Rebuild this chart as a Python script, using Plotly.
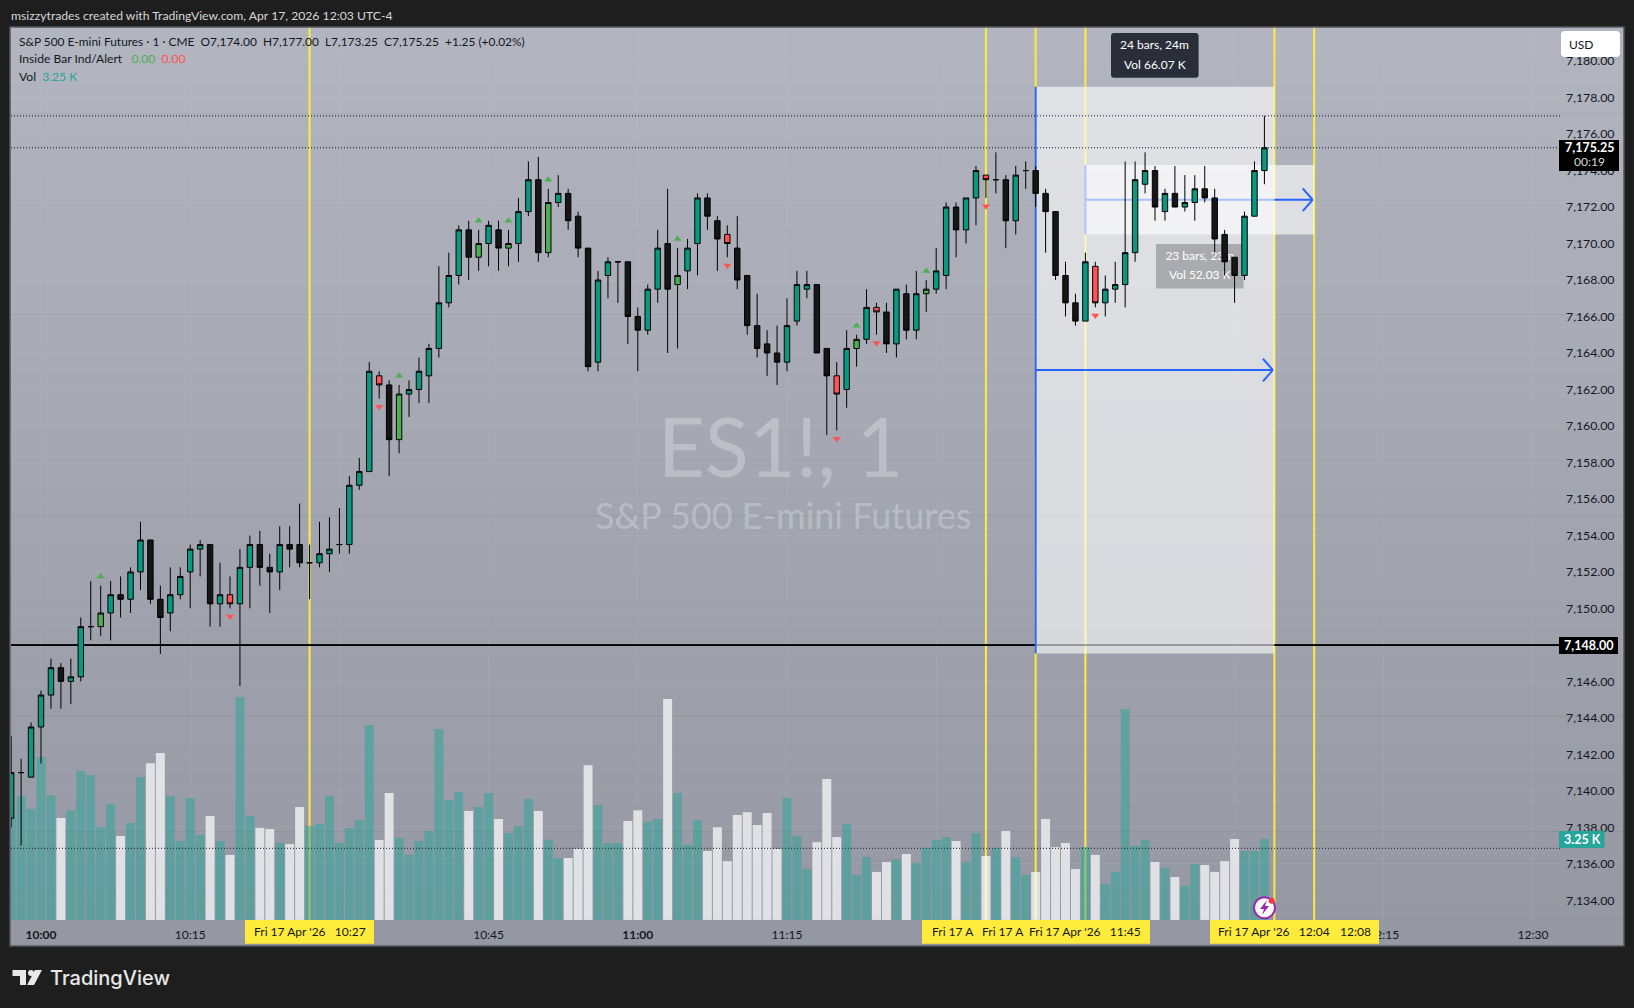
import pandas as pd
import plotly.graph_objects as go

W, H = 1634, 1008
L, R, T, B = 11, 1560, 27, 920
FONT = "Lato"
INK = "#131722"

# ---------- data ----------
start = "2026-04-17 09:57"
opens = [7138.5,7141,7140.75,7143.5,7145.25,7146.75,7146,7146.25,7149,7149,
7149.75,7150.75,7150.5,7152,7153.75,7150.5,7149.75,7150.75,7152,7153.25,
7153.5,7150.25,7150.75,7150.25,7152.25,7153.5,7152.25,7152,7153.5,7153.5,
7152.5,7152.5,7153,7153.5,7153.5,7156.75,7157.5,7162.75,7162.25,7159.25,
7161.75,7162,7162.75,7164.25,7166.75,7168.25,7170.75,7169.25,7170,7170.75,
7169.75,7170,7171.75,7173.5,7169.5,7172.25,7172.75,7171.5,7169.75,7163.5,
7168.25,7169,7169,7166,7165.25,7167.5,7170,7167.75,7168.5,7170,
7172.5,7171.25,7170.5,7169.75,7168.25,7165.5,7164.5,7164,7163.5,7165.75,
7167.5,7167.75,7164.25,7162.75,7162,7164.25,7164.75,7166.5,7166.25,7164.5,
7167.25,7165.25,7167.25,7167.5,7168.25,7172,7170.75,7172.5,7173.75,7173.5,
7173.5,7171.25,7174,7174,7172.75,7171.75,7168.25,7166.75,7165.75,7168.75,
7166.75,7167.5,7167.75,7169.5,7173.25,7174,7171.75,7172.75,7172,7172.25,
7173,7172.5,7170.5,7169.25,7168.25,7171.5,7174]
highs = [7143,7141.75,7143.75,7145.5,7147.25,7147,7147.25,7149.5,7151.5,7151.25,
7151.5,7151.75,7152.25,7154.75,7153.75,7151.25,7152.25,7152.25,7153.5,7153.75,
7153.5,7152.5,7151.75,7153.25,7154,7154.25,7153,7154.5,7154.5,7155.75,
7153.5,7154.75,7155,7155.5,7157.25,7158.25,7163.5,7163,7162.5,7162.25,
7162.5,7163.75,7164.5,7168.75,7169.5,7171,7171.25,7170.75,7171.25,7171.25,
7170.75,7172.5,7174.5,7174.75,7173,7173.75,7173,7171.75,7169.75,7168.5,
7169.25,7169,7169,7166.5,7167.75,7170.75,7173,7169.75,7170.25,7172.75,
7172.75,7171.5,7171,7171.5,7168.25,7167.25,7165.25,7165.5,7167,7168.5,
7168.5,7167.75,7164.25,7163.5,7165.25,7165,7167.5,7166.75,7166.75,7167.5,
7167.75,7168.5,7168,7169.75,7172.25,7172.25,7172.5,7174.25,7173.75,7175,
7173.75,7174.25,7174.5,7174.25,7173,7171.75,7169,7167.25,7169.5,7169,
7168.25,7169,7174.5,7174.5,7175,7174.25,7173,7174.25,7173.75,7173.75,
7174.25,7173,7170.75,7169.25,7171.75,7174.5,7177]
lows = [7138,7137,7140.75,7141.5,7144.5,7144.5,7144.75,7146,7148.25,7148.5,
7148.25,7149.5,7149.75,7151,7150.25,7147.5,7148.75,7150.5,7150,7151.75,
7149,7149,7150,7145.75,7150,7151.25,7149.75,7151,7152.25,7152.25,
7150.5,7152.25,7152,7153,7153,7156.5,7157.5,7161.5,7157.25,7158.5,
7160.5,7161.25,7161.25,7163.75,7166.5,7167.75,7168,7168.5,7168.75,7168.5,
7168.75,7169,7171.5,7169,7169.25,7172,7170.75,7169.25,7163,7163,
7167,7166.75,7164.5,7163,7165,7166.75,7164,7164.25,7167.5,7168.25,
7170.75,7168.5,7169.25,7167.5,7165,7163.75,7162.75,7162.25,7163,7165.5,
7167,7164,7159.5,7159.75,7161,7163.25,7164.5,7165,7164,7163.75,
7164.75,7164.75,7166.25,7167.25,7167.5,7169.25,7170,7171,7172.5,7172.75,
7169.75,7170.5,7173,7172,7169.5,7168,7166,7165.5,7165.75,7166.5,
7166,7166.75,7166.5,7169,7172.75,7171.25,7171.25,7172,7171.75,7171.25,
7172.25,7169.5,7168.25,7166.75,7168,7171.5,7173.25]
closes = [7141,7141,7143.5,7145.25,7146.75,7146,7146.25,7149,7149,7149.75,
7150.75,7150.5,7152,7153.75,7150.5,7149.5,7150.75,7151.75,7153.25,7153.5,
7150.25,7150.75,7150.25,7152.25,7153.5,7152.25,7152,7153.5,7153.25,7152.5,
7152.5,7153,7153.25,7153.5,7156.75,7157.5,7163,7162.25,7159.25,7161.75,
7162,7163,7164.25,7166.75,7168.25,7170.75,7169.25,7170,7171,7169.75,
7170,7171.75,7173.5,7169.5,7172.25,7172.75,7171.25,7169.75,7163.25,7168,
7169,7169,7166,7165.25,7167.5,7169.75,7167.5,7168.25,7169.75,7172.5,
7171.5,7170.25,7170,7168,7165.5,7164.25,7164,7163.5,7165.5,7167.75,
7167.75,7164,7162.75,7161.75,7164.25,7164.75,7166.5,7166.25,7164.5,7167.5,
7165.25,7167.25,7167.5,7168.5,7172,7170.75,7172.5,7174,7173.5,7173.5,
7171.25,7173.75,7174,7172.75,7171.75,7168.25,7166.75,7165.75,7169,7166.75,
7167.5,7167.75,7169.5,7173.5,7174,7172,7172.75,7172,7172.25,7173,
7172.5,7170.25,7169,7168.25,7171.5,7174,7175.25]
volumes_k = [4.68,5.62,5.03,7.39,5.66,4.62,4.98,6.75,6.57,4.21,
5.26,3.81,4.40,6.48,7.11,7.57,5.62,3.58,5.53,3.85,
4.71,3.58,2.95,10.11,4.71,4.17,4.12,3.49,3.44,5.12,
4.26,4.35,5.62,3.49,4.17,4.53,8.84,3.63,5.76,3.72,
2.95,3.58,4.03,8.66,5.44,5.80,4.94,5.12,5.76,4.58,
3.94,4.26,5.48,4.94,3.63,2.81,2.81,3.22,7.02,5.21,
3.49,3.49,4.49,4.98,4.44,4.58,10.02,5.76,3.40,4.53,
3.13,4.21,2.67,4.76,4.89,4.31,4.85,3.22,5.53,3.81,
2.31,3.53,6.39,3.76,4.35,2.04,2.85,2.18,2.63,2.76,
2.99,2.58,3.25,3.63,3.76,3.58,2.63,3.94,2.90,3.25,
4.03,2.85,2.04,2.18,4.58,3.31,3.49,2.31,3.31,2.95,
1.63,2.18,9.56,3.35,3.63,2.63,2.36,1.95,1.54,2.54,
2.49,2.18,2.67,3.67,3.13,3.13,3.67]
# bars flagged by the inside-bar indicator, as clock times
inside_up = ["10:06","10:36","10:44","10:47","10:51","11:04","11:22","11:29"]
inside_down = ["10:19","10:34","11:09","11:20","11:24","11:35","11:46"]
price_ticks = list(range(7134, 7182, 2))
time_ticks = ["10:00","10:15","10:30","10:45","11:00","11:15","11:30","11:45","12:00","12:15","12:30"]
time_hidden = ["10:30","11:30","11:45","12:00"]  # covered by the yellow cursor tags
cursor_times = ["10:27","11:35","11:40","11:45","12:04","12:08"]
D = "2026-04-17 "
last_high, last_close, level, last_vol = 7177.0, 7175.25, 7148.0, 3.25
box_a = dict(t0="11:40", t1="12:04", p0=7147.53, p1=7178.6)
box_b = dict(t0="11:45", t1="12:08", p0=7170.5, p1=7174.3)

times = pd.date_range(start, periods=len(closes), freq="min")
labels = [t.strftime("%H:%M") for t in times]
stamps = [t.strftime("%Y-%m-%d %H:%M") for t in times]
TEAL, BLACK, GREEN, RED = "#089981", "#161616", "#4caf50", "#ff5252"

def px(x): return (x - L) / (R - L)
def py(y): return (B - y) / (B - T)
def dt(s): return D + s + ":00" if len(s) == 5 else D + s

def candle(idx, up, down):
    return go.Candlestick(
        x=[stamps[i] for i in idx], open=[opens[i] for i in idx], high=[highs[i] for i in idx],
        low=[lows[i] for i in idx], close=[closes[i] for i in idx], yaxis="y2", xaxis="x",
        increasing=dict(fillcolor=up, line=dict(color="#000000", width=1)),
        decreasing=dict(fillcolor=down, line=dict(color="#000000", width=1)),
        whiskerwidth=0, hoverinfo="skip", showlegend=False)

up_i = [labels.index(t) for t in inside_up]
dn_i = [labels.index(t) for t in inside_down]
plain = [i for i in range(len(closes)) if i not in up_i + dn_i]

fig = go.Figure()
fig.add_trace(go.Bar(
    x=stamps, y=volumes_k, yaxis="y", xaxis="x",
    marker=dict(color=["rgba(38,166,154,0.5)" if c >= o else "rgba(255,255,255,0.7)" for o, c in zip(opens, closes)],
                line=dict(width=0)),
    hoverinfo="skip", showlegend=False))
fig.add_trace(candle(plain, TEAL, BLACK))
fig.add_trace(candle(up_i, GREEN, GREEN))
fig.add_trace(candle(dn_i, RED, RED))
fig.add_trace(go.Scatter(x=[stamps[i] for i in up_i], y=[highs[i] + 0.5 for i in up_i], yaxis="y2", mode="markers",
                         marker=dict(symbol="triangle-up", size=7, color=GREEN), hoverinfo="skip", showlegend=False))
fig.add_trace(go.Scatter(x=[stamps[i] for i in dn_i], y=[lows[i] - 0.45 for i in dn_i], yaxis="y2", mode="markers",
                         marker=dict(symbol="triangle-down", size=7, color=RED), hoverinfo="skip", showlegend=False))

shapes = []
# panel gradient
n = 32
ptop, pbot = 27, 946
c0, c1 = (178, 181, 191), (149, 152, 162)
for k in range(n):
    f = k / (n - 1)
    col = "rgb(%d,%d,%d)" % tuple(round(a + (b - a) * f) for a, b in zip(c0, c1))
    y0 = ptop + (pbot - ptop) * k / n
    y1 = ptop + (pbot - ptop) * (k + 1) / n + 0.6
    shapes.append(dict(type="rect", xref="paper", yref="paper", x0=px(10), x1=px(1624), y0=py(y0), y1=py(min(y1, pbot)),
                       fillcolor=col, line=dict(width=0), layer="below"))
for t in cursor_times:
    shapes.append(dict(type="line", xref="x", yref="paper", x0=dt(t), x1=dt(t), y0=0, y1=1,
                       line=dict(color="#ffeb3b", width=2), layer="below"))
# horizontal level: over the cursors, under the white boxes
shapes.append(dict(type="line", xref="paper", yref="y2", x0=0, x1=1, y0=level, y1=level,
                   line=dict(color="#000000", width=2), layer="below"))

BLUE = "#2962ff"
def bline(x0, y0, x1, y1, layer="below"):
    return dict(type="line", xref="x", yref="y2", x0=x0, x1=x1, y0=y0, y1=y1,
                line=dict(color=BLUE, width=2), layer=layer)
def arrow(box):
    mid = (box["p0"] + box["p1"]) / 2
    end = pd.Timestamp(dt(box["t1"])) - pd.Timedelta(seconds=9)
    back = (end - pd.Timedelta(seconds=60)).strftime("%Y-%m-%d %H:%M:%S")
    e = end.strftime("%Y-%m-%d %H:%M:%S")
    return [bline(dt(box["t0"]), mid, e, mid), bline(back, mid + 0.62, e, mid), bline(back, mid - 0.62, e, mid)]
def tip_line(text, pmid):
    return dict(type="rect", xref="x", yref="y2", x0=D + "11:52:06", x1=D + "12:00:54", y0=pmid - 0.3, y1=pmid + 0.3,
                fillcolor="rgba(0,0,0,0)", line=dict(width=0), layer="below",
                label=dict(text=text, font=dict(family=FONT, size=12, color="#ffffff"), textposition="middle center"))

shapes.append(dict(type="rect", xref="x", yref="y2", x0=dt(box_b["t0"]), x1=dt(box_b["t1"]), y0=box_b["p0"], y1=box_b["p1"],
                   fillcolor="rgba(255,255,255,0.6)", line=dict(width=0), layer="below"))
shapes.append(bline(dt(box_b["t0"]), box_b["p0"], dt(box_b["t0"]), box_b["p1"]))
shapes += arrow(box_b)
shapes.append(dict(type="rect", xref="x", yref="y2", x0=D + "11:52:06", x1=D + "12:00:54", y0=7167.53, y1=7169.98,
                   fillcolor="#2a2e39", line=dict(width=0), layer="below"))
shapes.append(tip_line("23 bars, 23m", 7169.36))
shapes.append(tip_line("Vol 52.03 K", 7168.28))
shapes.append(dict(type="rect", xref="x", yref="y2", x0=dt(box_a["t0"]), x1=dt(box_a["t1"]), y0=box_a["p0"], y1=box_a["p1"],
                   fillcolor="rgba(255,255,255,0.6)", line=dict(width=0), layer="below"))
shapes.append(bline(dt(box_a["t0"]), box_a["p0"], dt(box_a["t0"]), box_a["p1"]))
shapes += arrow(box_a)
for v in (last_high, last_close):
    shapes.append(dict(type="line", xref="paper", yref="y2", x0=0, x1=1, y0=v, y1=v,
                       line=dict(color=INK, width=1, dash="1px,2px"), layer="above"))
shapes.append(dict(type="line", xref="paper", yref="y", x0=0, x1=1, y0=last_vol, y1=last_vol,
                   line=dict(color=INK, width=1, dash="1px,2px"), layer="above"))

def rrect(x0, y0, x1, y1, r, fill):
    X0, X1 = px(x0), px(x1)
    Y0, Y1 = py(y0), py(y1)
    rx, ry = r / (R - L), r / (B - T)
    p = (f"M{X0+rx},{Y0} L{X1-rx},{Y0} Q{X1},{Y0} {X1},{Y0-ry} L{X1},{Y1+ry} Q{X1},{Y1} {X1-rx},{Y1} "
         f"L{X0+rx},{Y1} Q{X0},{Y1} {X0},{Y1+ry} L{X0},{Y0-ry} Q{X0},{Y0} {X0+rx},{Y0} Z")
    return dict(type="path", xref="paper", yref="paper", path=p, fillcolor=fill, line=dict(width=0), layer="above")
def box(x0, y0, x1, y1, fill):
    return dict(type="rect", xref="paper", yref="paper", x0=px(x0), x1=px(x1), y0=py(y0), y1=py(y1),
                fillcolor=fill, line=dict(width=0), layer="above")
def poly(pts, fill):
    p = "M" + " L".join(f"{px(a)},{py(b)}" for a, b in pts) + " Z"
    return dict(type="path", xref="paper", yref="paper", path=p, fillcolor=fill, line=dict(width=0), layer="above")
def circle(cx, cy, r, fill, edge=None, lw=0):
    return dict(type="circle", xref="paper", yref="paper", x0=px(cx - r), x1=px(cx + r), y0=py(cy + r), y1=py(cy - r),
                fillcolor=fill, line=dict(color=edge or fill, width=lw), layer="above")

shapes.append(rrect(1111, 33, 1198.6, 77.7, 3, "#2a2e39"))
shapes.append(rrect(1561, 31, 1620, 57, 4, "#ffffff"))
shapes.append(box(1559, 140, 1619, 171, "#000000"))
shapes.append(box(1559, 637, 1618, 654, "#000000"))
shapes.append(box(1559, 831, 1604.5, 848, "#26a69a"))
# yellow cursor tags on the time axis
YEL = "#ffeb3b"
shapes.append(box(245, 920, 374, 943.7, YEL))
shapes.append(box(922, 920, 1150, 943.7, YEL))
shapes.append(box(1210, 920, 1379, 943.7, YEL))
# alert badge
shapes.append(circle(1264.5, 907.7, 10.5, "#ffffff", "#9c27b0", 2))
shapes.append(poly([(1267, 900), (1260, 909), (1264, 909), (1262, 915), (1269, 906), (1265, 906)], "#9c27b0"))
shapes.append(circle(1271.6, 900.7, 3, "#f23645"))
# logo
shapes.append(poly([(12.5, 970), (26, 970), (26, 985), (20, 985), (20, 976), (12.5, 976)], "#e8e8e8"))
shapes.append(circle(31, 973, 3, "#e8e8e8"))
shapes.append(poly([(35, 970), (42, 970), (34, 985), (27, 985)], "#e8e8e8"))
# panel border
shapes.append(dict(type="rect", xref="paper", yref="paper", x0=px(10), x1=px(1624), y0=py(946), y1=py(27),
                   line=dict(color="#56575c", width=1.5), layer="above"))

ann = []
def txt(x, y, s, size=12, color=INK, anchor="left", family=FONT, weight=None):
    f = dict(family=family, size=size, color=color)
    if weight:
        f["weight"] = weight
    ann.append(dict(xref="paper", yref="paper", x=px(x), y=py(y), text=s, showarrow=False, xanchor=anchor, yanchor="middle",
                    font=f, borderpad=0))

txt(10, 15, "msizzytrades created with TradingView.com, Apr 17, 2026 12:03 UTC-4", 12.2, "#d6d7da")
txt(17.5, 42, "S&amp;P 500 E-mini Futures · 1 · CME  O7,174.00  H7,177.00  L7,173.25  C7,175.25  +1.25 (+0.02%)", 11.9)
txt(17.5, 59, "Inside Bar Ind/Alert   <span style='color:#4caf50'>0.00</span>  <span style='color:#ff5252'>0.00</span>", 12.1)
txt(17.5, 76, "Vol  <span style='color:#26a69a'>3.25 K</span>", 12.1)
wm = "rgba(255,255,255,0.27)"
txt(781, 446, "ES1!, 1", 81, wm, "center")
txt(783, 515, "S&amp;P 500 E-mini Futures", 36, wm, "center")
txt(1154.8, 45, "24 bars, 24m", 12, "#ffffff", "center")
txt(1154.8, 65, "Vol 66.07 K", 12, "#ffffff", "center")
txt(1581, 44, "USD", 12, INK, "center")
txt(1589, 148, "7,175.25", 12.5, "#ffffff", "center", weight=700)
txt(1589, 162, "00:19", 12, "#d8d8d8", "center")
txt(1588.5, 645.5, "7,148.00", 12.5, "#ffffff", "center", weight=700)
txt(1582, 839.5, "3.25 K", 12.5, "#ffffff", "center", weight=700)
txt(49, 978, "TradingView", 20, "#e8e8e8", "left", family="Inter", weight=500)
# visible parts of the stacked cursor tags
txt(309.6, 932, "Fri 17 Apr '26   10:27", 12, anchor="center")
txt(931, 932, "Fri 17 A", 12)
txt(981, 932, "Fri 17 A", 12)
txt(1085, 932, "Fri 17 Apr '26   11:45", 12, anchor="center")
txt(1274.4, 932, "Fri 17 Apr '26   12:04", 12, anchor="center")
txt(1355, 932, "12:08", 12, anchor="center")

fig.update_layout(
    width=W, height=H, autosize=False,
    margin=dict(l=L, r=W - R, t=T, b=H - B, pad=0),
    paper_bgcolor="#1e1e1e", plot_bgcolor="rgba(0,0,0,0)",
    showlegend=False, hovermode=False, boxgap=0.22, bargap=0.1, dragmode=False,
    font=dict(family=FONT, size=12, color=INK),
    shapes=shapes, annotations=ann,
    xaxis=dict(type="date", range=[D + "09:56:59", D + "12:32:43"], rangeslider=dict(visible=False),
               tickmode="array", tickvals=[dt(t) for t in time_ticks],
               ticktext=["" if t in time_hidden else (f"<b>{t}</b>" if t.endswith(":00") else t) for t in time_ticks],
               tickfont=dict(family=FONT, size=12, color=INK), ticklen=0, showline=False, zeroline=False,
               showgrid=True, gridcolor="rgba(255,255,255,0.05)", gridwidth=1, ticklabelstandoff=6),
    yaxis=dict(range=[0, 40.48], visible=False, showgrid=False, fixedrange=True),
    yaxis2=dict(overlaying="y", side="right", anchor="x", range=[7132.92, 7181.87], tickmode="array",
                tickvals=price_ticks, ticktext=[f"{v:,.2f}" for v in price_ticks],
                tickfont=dict(family=FONT, size=12.3, color=INK), ticklen=0, showline=False, zeroline=False,
                showgrid=True, gridcolor="rgba(255,255,255,0.05)", gridwidth=1, ticklabelstandoff=5, fixedrange=True),
)
fig.write_html("out.html", config={"displayModeBar": False},
               post_script="document.body.style.margin='0';document.body.style.overflow='hidden';document.body.style.background='#1e1e1e';")
